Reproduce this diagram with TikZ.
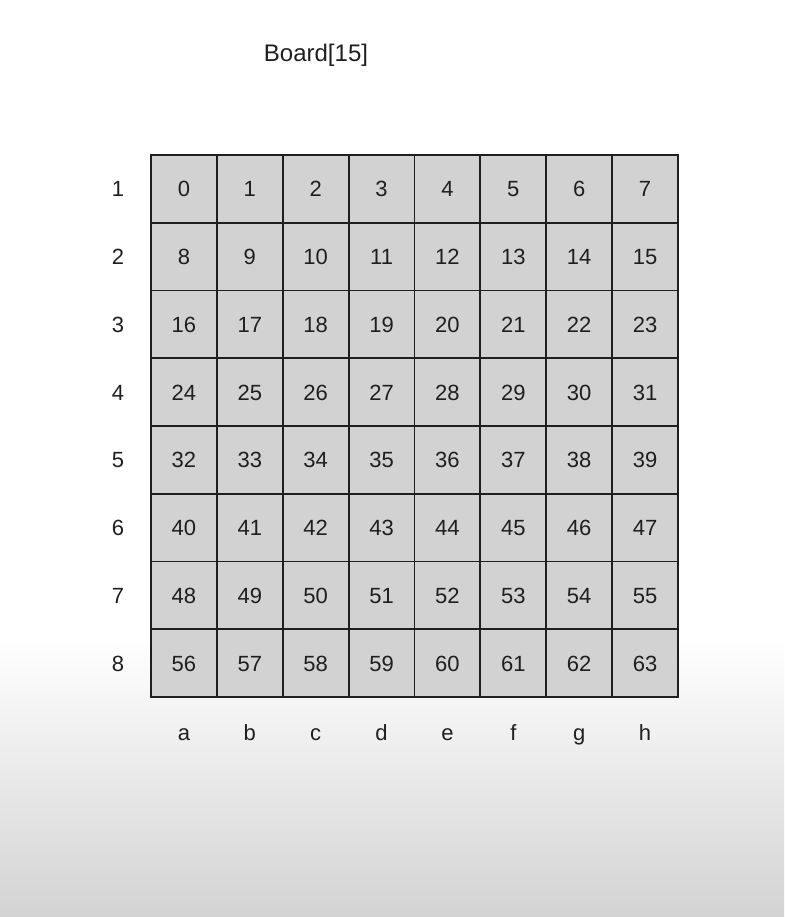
\documentclass[tikz,border=0pt]{standalone}
\usepackage{fontspec}
\setmainfont{Liberation Sans}
\begin{document}
\begin{tikzpicture}[x=1pt,y=-1pt,
  celltext/.style={inner sep=0pt,text height=15.8pt,text depth=0pt,anchor=center,font=\fontsize{22}{24}\selectfont,text=black!88},
  lbl/.style={font=\fontsize{22}{24}\selectfont,text=black!88,inner sep=0pt},
  gridline/.style={draw=black!88,line width=1.8pt}]
\definecolor{cellgray}{HTML}{D2D2D2}
\definecolor{bgbottom}{HTML}{D3D3D3}
\useasboundingbox (0,0) rectangle (784,917);
\fill[white] (0,0) rectangle (784,640);
\shade[top color=white,bottom color=bgbottom] (0,639) rectangle (784,917);
\node[lbl,font=\fontsize{24}{26}\selectfont] (title) at (316,55) {Board[15]};
\fill[cellgray] (151,155) rectangle (678,697);
\foreach \r in {0,...,7}{
  \foreach \c in {0,...,7}{
    \pgfmathtruncatemacro{\n}{8*\r+\c}
    \node[celltext] (c\n) at ({151+65.875*(\c+0.5)},{155+67.75*(\r+0.5)}) {\n};
  }
}
\foreach \k in {0,...,8}{
  \draw[gridline] ({151+65.875*\k},155) -- ({151+65.875*\k},697);
  \draw[gridline] (151,{155+67.75*\k}) -- (678,{155+67.75*\k});
}
\draw[gridline,line cap=rect] (151,155) rectangle (678,697);
\foreach \r [count=\i] in {0,...,7}{
  \node[celltext] (row\i) at (118,{155+67.75*(\r+0.5)}) {\i};
}
\foreach \L [count=\i from 0] in {a,b,c,d,e,f,g,h}{
  \node[lbl,anchor=base] (col\L) at ({151+65.875*(\i+0.5)},740) {\L};
}
\end{tikzpicture}
\end{document}
